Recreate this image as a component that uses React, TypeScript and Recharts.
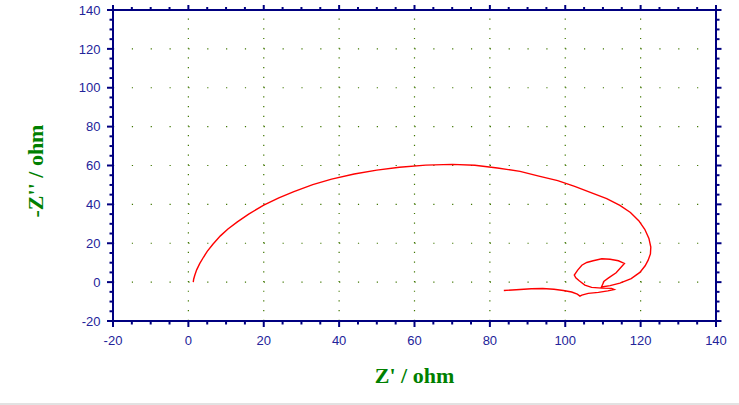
import React from 'react';
import { LineChart, Line, XAxis, YAxis, ReferenceLine, Label } from 'recharts';

// Z' (real part, ohm)
const zReal = [
  1.3, 1.4, 1.7, 2.2, 3.0, 4.0, 5.0, 6.5, 8.5, 10.5, 13, 16, 20, 24, 28, 33, 38, 44, 50, 56, 63, 70,
  76, 82, 88, 93, 98, 102.5, 107, 111, 114.5, 117.3, 119.5, 121.1, 122.2, 122.7, 122.6, 122, 121.2,
  119.8, 117.5, 114.5, 111.9, 109.6,
  110.3, 111.5, 113.5, 115.7, 114.1, 111.9, 109.7, 107.4, 105.7, 104.4, 103.3, 102.4, 102.8, 103.7,
  105.2, 107, 109.7, 112.3, 113, 111.3, 108.8, 106.1, 104.4, 103.9, 103.2, 101.7, 99.5, 97, 94, 91,
  87, 83.7,
];
// -Z'' (imaginary part, ohm)
const zImag = [
  0, 1.5, 3.5, 6.3, 9.5, 12.8, 15.8, 19.5, 23.8, 27.3, 31, 35, 39.6, 43.4, 46.6, 50.2, 53, 55.6, 57.6, 59.1, 60.2, 60.6,
  60.1, 58.7, 57, 54.5, 52.2, 49.3, 45.9, 43, 39.5, 35.8, 31.6, 27.2, 22.5, 18, 14.5, 11.3, 8.4,
  5.0, 1.8, -0.5, -1.8, -2.5,
  0.5, 2.2, 4.8, 9.6, 11, 11.8, 12, 11, 10.1, 8.7, 6.2, 3.6, 2.2, 0.7,
  -1.5, -2.7, -3.1, -3.2, -3.8, -4.5, -5.3, -5.8, -6.7, -7.2, -6.2, -5.1, -4.3, -3.7, -3.3, -3.4,
  -3.9, -4.3,
];

const xMajorTicks = [-20, 0, 20, 40, 60, 80, 100, 120, 140];
const yMajorTicks = [-20, 0, 20, 40, 60, 80, 100, 120, 140];
const minorStep = 5;

const xAllTicks: number[] = [];
for (let v = xMajorTicks[0]; v <= xMajorTicks[xMajorTicks.length - 1]; v += minorStep) xAllTicks.push(v);
const yAllTicks: number[] = [];
for (let v = yMajorTicks[0]; v <= yMajorTicks[yMajorTicks.length - 1]; v += minorStep) yAllTicks.push(v);

const xGridValues = xMajorTicks.slice(1, -1);
const yGridValues = yMajorTicks.slice(1, -1);

const data = zReal.map((x, i) => ({ x, y: zImag[i] }));

const NAVY = '#000080';
const LABEL_COLOR = '#23239a';
const GRID = '#3f7600';
const GREEN = '#008000';

type Side = 'bottom' | 'top' | 'left' | 'right';

function makeTick(side: Side, majors: number[], showLabel: boolean) {
  const majorSet = new Set(majors);
  return (props: any) => {
    const { x, y, payload } = props;
    const v = payload.value;
    const major = majorSet.has(v);
    const len = major ? 6 : 3.5;
    let line: React.ReactNode = null;
    let label: React.ReactNode = null;
    if (side === 'bottom') {
      line = <line x1={x} y1={y} x2={x} y2={y + len} stroke={NAVY} strokeWidth={2} />;
      if (showLabel && major)
        label = (
          <text x={x} y={y + 24} textAnchor="middle" fontFamily="Arial, 'Liberation Sans'" fontSize={13} fill={LABEL_COLOR}>
            {v}
          </text>
        );
    } else if (side === 'top') {
      line = <line x1={x} y1={y} x2={x} y2={y - (major ? 5 : 3)} stroke={NAVY} strokeWidth={2} />;
    } else if (side === 'left') {
      line = <line x1={x} y1={y} x2={x - len} y2={y} stroke={NAVY} strokeWidth={2} />;
      if (showLabel && major)
        label = (
          <text x={x - 12.5} y={y} dy="0.36em" textAnchor="end" fontFamily="Arial, 'Liberation Sans'" fontSize={13} fill={LABEL_COLOR}>
            {v}
          </text>
        );
    } else {
      line = <line x1={x} y1={y} x2={x + (major ? 5.5 : 3.5)} y2={y} stroke={NAVY} strokeWidth={2} />;
    }
    return (
      <g>
        {line}
        {label}
      </g>
    );
  };
}

export default function App() {
  return (
    <div style={{ position: 'absolute', left: 0, top: 0, width: 739, height: 405, background: '#fff' }}>
      <LineChart width={739} height={405} data={data} margin={{ top: 0, right: 0, bottom: 0, left: 0 }}>
        <XAxis
          xAxisId={0}
          dataKey="x"
          type="number"
          orientation="bottom"
          domain={[-20, 140]}
          ticks={xAllTicks}
          interval={0}
          tickSize={0}
          tickMargin={0}
          tickLine={false}
          height={84}
          allowDataOverflow
          axisLine={{ stroke: NAVY, strokeWidth: 2 }}
          tick={makeTick('bottom', xMajorTicks, true)}
        >
          <Label
            content={(p: any) => {
              const vb = p.viewBox || { x: 113, width: 603 };
              return (
                <text
                  x={vb.x + vb.width / 2}
                  y={383}
                  textAnchor="middle"
                  fontFamily="'Times New Roman', 'Liberation Serif', serif"
                  fontWeight="bold"
                  fontSize={22}
                  fill={GREEN}
                >
                  Z' / ohm
                </text>
              );
            }}
          />
        </XAxis>
        <XAxis
          xAxisId="top"
          dataKey="x"
          type="number"
          orientation="top"
          domain={[-20, 140]}
          ticks={xAllTicks}
          interval={0}
          tickSize={0}
          tickMargin={0}
          tickLine={false}
          height={10}
          allowDataOverflow
          axisLine={{ stroke: NAVY, strokeWidth: 2 }}
          tick={makeTick('top', xMajorTicks, false)}
        />
        <YAxis
          yAxisId={0}
          dataKey="y"
          type="number"
          orientation="left"
          domain={[-20, 140]}
          ticks={yAllTicks}
          interval={0}
          tickSize={0}
          tickMargin={0}
          tickLine={false}
          width={113}
          allowDataOverflow
          axisLine={{ stroke: NAVY, strokeWidth: 2 }}
          tick={makeTick('left', yMajorTicks, true)}
        >
          <Label
            content={() => (
              <text
                x={43}
                y={171}
                transform="rotate(-90 43 171)"
                textAnchor="middle"
                fontFamily="'Times New Roman', 'Liberation Serif', serif"
                fontWeight="bold"
                fontSize={22}
                fill={GREEN}
              >
                -Z'' / ohm
              </text>
            )}
          />
        </YAxis>
        <YAxis
          yAxisId="right"
          dataKey="y"
          type="number"
          orientation="right"
          domain={[-20, 140]}
          ticks={yAllTicks}
          interval={0}
          tickSize={0}
          tickMargin={0}
          tickLine={false}
          width={23}
          allowDataOverflow
          axisLine={{ stroke: NAVY, strokeWidth: 2 }}
          tick={makeTick('right', yMajorTicks, false)}
        />
        {xGridValues.map((v) => (
          <ReferenceLine
            key={'gx' + v}
            x={v}
            xAxisId={0}
            yAxisId={0}
            stroke={GRID}
            strokeWidth={1.2}
            strokeDasharray="1.2 8.52"
          />
        ))}
        {yGridValues.map((v) => (
          <ReferenceLine
            key={'gy' + v}
            y={v}
            xAxisId={0}
            yAxisId={0}
            stroke={GRID}
            strokeWidth={1.2}
            strokeDasharray="1.2 17.64"
          />
        ))}
        <Line
          xAxisId={0}
          yAxisId={0}
          type="linear"
          dataKey="y"
          stroke="#ff0000"
          strokeWidth={1.4}
          dot={false}
          isAnimationActive={false}
        />
      </LineChart>
      <div style={{ position: 'absolute', left: 0, top: 403, width: 739, height: 2, background: '#e2e2e2' }} />
    </div>
  );
}
